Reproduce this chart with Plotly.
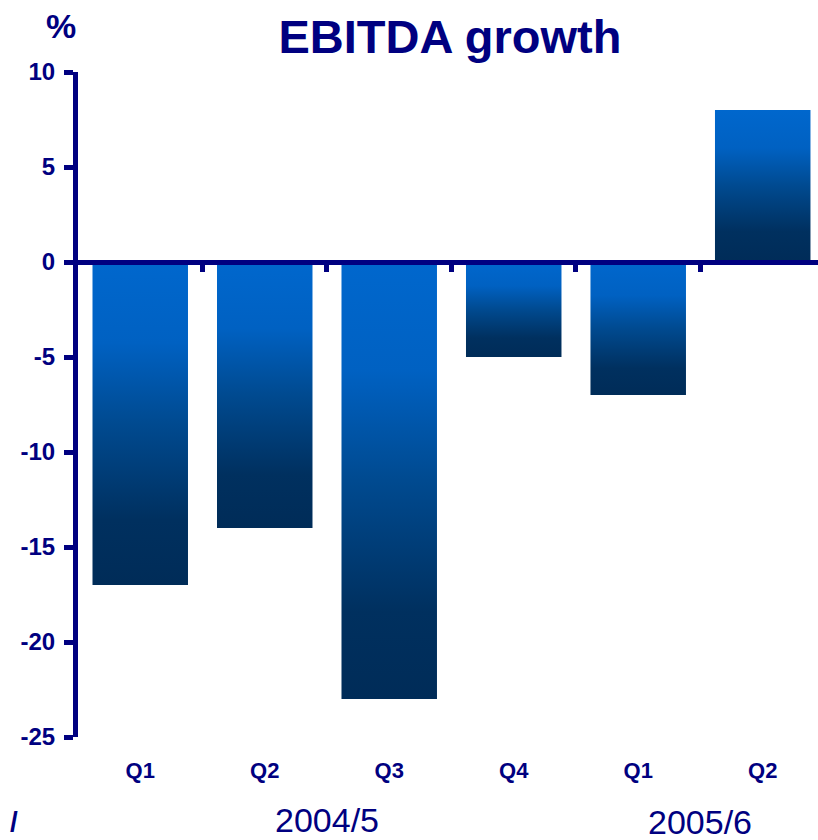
import plotly.graph_objects as go

# Quarterly EBITDA growth, %
quarters = ["Q1", "Q2", "Q3", "Q4", "Q1", "Q2"]
growth = [-17, -14, -23, -5, -7, 8]
years = ["2004/5", "2005/6"]
year_centres = [1.5, 4.5]
y_ticks = [10, 5, 0, -5, -10, -15, -20, -25]

NAVY = "#000080"
BAR_WIDTH = 0.767
FONT = "Liberation Sans, Arial, sans-serif"

# vertical gradient: dark at the lower edge of each bar, bright blue at the upper edge
gradient = [
    [0.0, "#002C58"],
    [0.2, "#00305F"],
    [0.5, "#004A90"],
    [0.75, "#0061C2"],
    [1.0, "#0067CD"],
]

fig = go.Figure()

for i, v in enumerate(growth):
    left, right = i - BAR_WIDTH / 2, i + BAR_WIDTH / 2
    fig.add_trace(go.Scatter(
        x=[left, left, right, right, left],
        y=[0, v, v, 0, 0],
        mode="lines",
        line=dict(width=0),
        fill="toself",
        fillgradient=dict(type="vertical", colorscale=gradient),
        hoverinfo="skip",
        showlegend=False,
    ))

x_range = [-0.5, 5.444]
y_range = [-25, 10]

# invisible trace so the zero-line axis (x2) gets drawn
fig.add_trace(go.Scatter(
    x=x_range, y=[0, 0], xaxis="x2", mode="markers",
    marker=dict(opacity=0), hoverinfo="skip", showlegend=False,
))

annotations = [
    dict(text="<b>%</b>", x=-0.023, y=1.069, xref="paper", yref="paper",
         xanchor="center", yanchor="middle", showarrow=False,
         font=dict(family=FONT, size=34, color=NAVY)),
    dict(text="<b>/</b>", x=-0.087, y=-0.127, xref="paper", yref="paper",
         xanchor="center", yanchor="middle", showarrow=False,
         font=dict(family=FONT, size=28, color=NAVY)),
]
for label, xc, yp in zip(years, year_centres, [-0.1248, -0.1275]):
    annotations.append(dict(
        text=label, x=xc, y=yp, xref="x", yref="paper", showarrow=False,
        xanchor="center", yanchor="middle",
        font=dict(family=FONT, size=34, color=NAVY),
    ))

fig.update_layout(
    width=818, height=840,
    margin=dict(l=78, r=0, t=72, b=103),
    paper_bgcolor="white", plot_bgcolor="white",
    title=dict(text="<b>EBITDA growth</b>", x=0.55, y=0.956, xanchor="center",
               yanchor="middle", font=dict(family=FONT, size=47, color=NAVY)),
    xaxis=dict(
        range=x_range, tickvals=list(range(len(quarters))), ticktext=quarters,
        showline=False, showgrid=False, zeroline=False, ticks="",
        tickfont=dict(family=FONT, size=22, color=NAVY, weight="bold"),
        ticklabelstandoff=18,
    ),
    xaxis2=dict(
        overlaying="x", anchor="free", position=25 / 35, range=x_range,
        showline=True, linecolor=NAVY, linewidth=5,
        tickvals=[k + 0.5 for k in range(len(quarters) - 1)],
        ticks="outside", ticklen=7, tickwidth=5, tickcolor=NAVY,
        showticklabels=False, showgrid=False, zeroline=False,
    ),
    yaxis=dict(
        range=y_range, tickvals=y_ticks, ticktext=[str(t) for t in y_ticks],
        showline=True, linecolor=NAVY, linewidth=5,
        ticks="outside", ticklen=9, tickwidth=5, tickcolor=NAVY,
        tickfont=dict(family=FONT, size=24, color=NAVY, weight="bold"),
        showgrid=False, zeroline=False, ticklabelstandoff=4,
    ),
    annotations=annotations,
)

fig.write_html("out.html")
